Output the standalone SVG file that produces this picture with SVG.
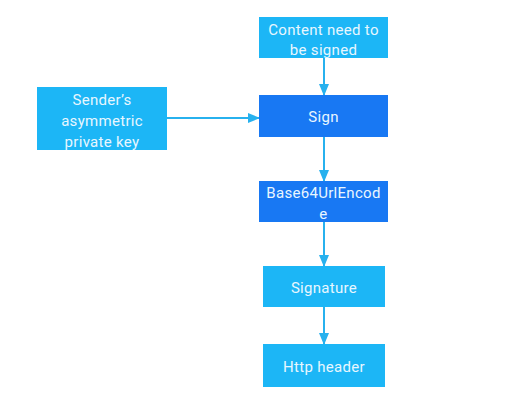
<svg xmlns="http://www.w3.org/2000/svg" width="515" height="402" viewBox="0 0 515 402">
<style>
.light{fill:#1cb6f6}
.dark{fill:#1878f3}
.t{font-family:Roboto,"Liberation Sans",sans-serif;font-size:15px;letter-spacing:0.3px;fill:#e8f6ff;text-anchor:middle}
.c{stroke:#27b1ee;stroke-width:2;fill:none;marker-end:url(#ah)}
</style>
<defs>
<marker id="ah" markerWidth="12" markerHeight="10" refX="11" refY="5" orient="auto" markerUnits="userSpaceOnUse">
<path d="M0,0 L12,5 L0,10 Z" fill="#27b1ee"/>
</marker>
</defs>
<rect width="515" height="402" fill="#ffffff"/>
<g id="connectors">
<line class="c" x1="324" y1="58" x2="324" y2="95"/>
<line class="c" x1="167" y1="118" x2="259" y2="118"/>
<line class="c" x1="324" y1="137" x2="324" y2="181"/>
<line class="c" x1="324" y1="222" x2="324" y2="266"/>
<line class="c" x1="324" y1="307" x2="324" y2="344"/>
</g>
<g id="content">
<rect class="light" x="259" y="17" width="129" height="41"/>
<text class="t" x="323.5" y="35">Content need to</text>
<text class="t" x="323.5" y="55">be signed</text>
</g>
<g id="sender">
<rect class="light" x="37" y="87" width="130" height="63"/>
<text class="t" x="102" y="105">Sender’s</text>
<text class="t" x="102" y="126">asymmetric</text>
<text class="t" x="102" y="147">private key</text>
</g>
<g id="sign">
<rect class="dark" x="259" y="95" width="129" height="42"/>
<text class="t" x="323.5" y="122">Sign</text>
</g>
<g id="base64">
<rect class="dark" x="259" y="181" width="129" height="41"/>
<text class="t" x="323.5" y="198">Base64UrlEncod</text>
<text class="t" x="323.5" y="219">e</text>
</g>
<g id="signature">
<rect class="light" x="263" y="266" width="122" height="41"/>
<text class="t" x="324" y="293">Signature</text>
</g>
<g id="http">
<rect class="light" x="263" y="344" width="122" height="43"/>
<text class="t" x="324" y="372">Http header</text>
</g>
</svg>
